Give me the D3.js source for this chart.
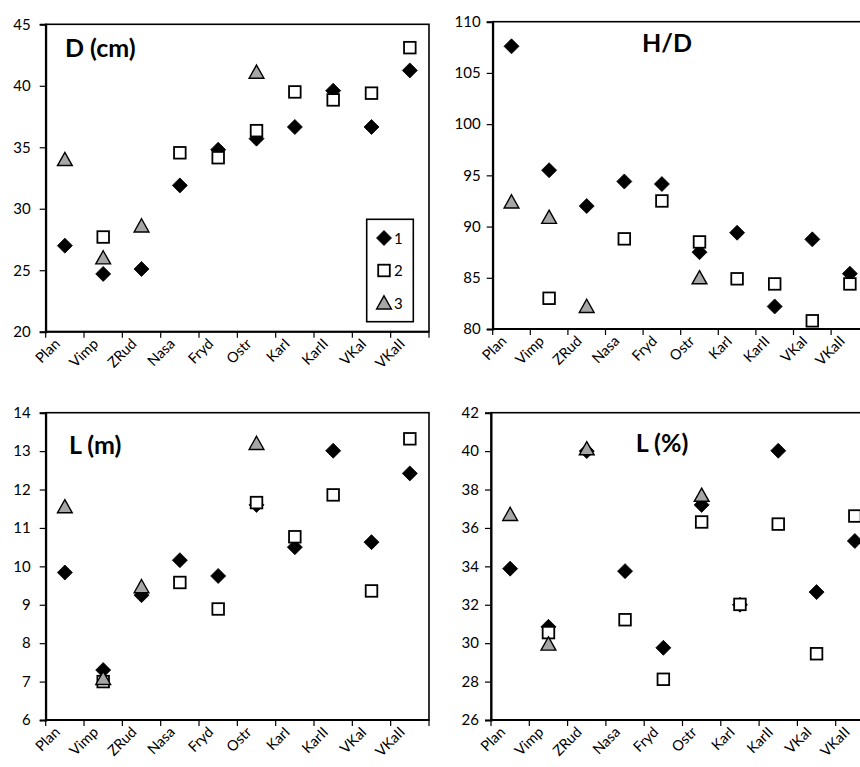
<!DOCTYPE html>
<html><head><meta charset="utf-8">
<script src="https://cdn.jsdelivr.net/npm/d3@7/dist/d3.min.js"></script>
<style>body{margin:0;background:#fff}svg{display:block}text{font-family:Lato,"Open Sans",sans-serif;fill:#000}</style>
</head><body><svg id="c" width="860" height="767"></svg>
<script>
const categories = ["Plan","Vimp","ZRud","Nasa","Fryd","Ostr","KarI","KarII","VKaI","VKaII"];
const seriesNames = ["1","2","3"];

// D (cm)
const D1 = [27.0,24.7,25.1,31.9,34.8,35.7,36.65,39.6,36.65,41.25];
const D2 = [null,27.7,null,34.55,34.15,36.35,39.5,38.85,39.4,43.1];
const D3 = [34.0,26.0,28.6,null,null,41.1,null,null,null,null];
const Dticks = [20,25,30,35,40,45];

// H/D
const HD1 = [107.6,95.5,92.0,94.4,94.15,87.5,89.4,82.2,88.75,85.4];
const HD2 = [null,83.0,null,88.8,92.5,88.5,84.9,84.4,80.8,84.4];
const HD3 = [92.4,90.9,82.2,null,null,85.0,null,null,null,null];
const HDticks = [80,85,90,95,100,105,110];

// L (m)
const Lm1 = [9.84,7.3,9.25,10.16,9.75,11.6,10.5,13.01,10.63,12.42];
const Lm2 = [null,7.0,null,9.58,8.89,11.66,10.77,11.86,9.36,13.32];
const Lm3 = [11.55,7.08,9.47,null,null,13.2,null,null,null,null];
const Lmticks = [6,7,8,9,10,11,12,13,14];

// L (%)
const Lp1 = [33.88,30.85,40.0,33.75,29.76,37.2,32.0,40.02,32.66,35.32];
const Lp2 = [null,30.55,null,31.22,28.12,36.31,32.02,36.2,29.45,36.62];
const Lp3 = [36.7,29.95,40.12,null,null,37.7,null,null,null,null];
const Lpticks = [26,28,30,32,34,36,38,40,42];

const panels = [
  {title:"D (cm)", s:[D1,D2,D3], ticks:Dticks, L:45.7, R:429, T:24.3, B:331.7, tx:65, ty:57, anchor:"start", legend:true, lblGap:15},
  {title:"H/D", s:[HD1,HD2,HD3], ticks:HDticks, L:492.7, R:868.7, T:21.7, B:329, tx:667, ty:52, anchor:"middle", lblGap:12},
  {title:"L (m)", s:[Lm1,Lm2,Lm3], ticks:Lmticks, L:45.7, R:429, T:412.7, B:720, tx:69, ty:454, anchor:"start", lblGap:15},
  {title:"L (%)", s:[Lp1,Lp2,Lp3], ticks:Lpticks, L:491, R:874, T:412.7, B:720, tx:662, ty:452, anchor:"middle", lblGap:12}
];

const svg = d3.select("#c");
function marker(g, k){
  if(k===0){
    g.append("path").attr("d","M0,-7.5L7.5,0L0,7.5L-7.5,0Z").attr("fill","#000").attr("stroke","#000").attr("stroke-width",0.8);
  } else if(k===1){
    g.append("rect").attr("x",-5.8).attr("y",-5.8).attr("width",11.6).attr("height",11.6).attr("fill","#fff").attr("stroke","#000").attr("stroke-width",1.8);
  } else {
    g.append("path").attr("d","M0,-7.2L7.4,6L-7.4,6Z").attr("fill","#a6a6a6").attr("stroke","#000").attr("stroke-width",1.4);
  }
}

panels.forEach(p=>{
  const x = d3.scaleBand().domain(categories).range([p.L,p.R]).padding(0);
  const y = d3.scaleLinear().domain([p.ticks[0],p.ticks[p.ticks.length-1]]).range([p.B,p.T]);
  const g = svg.append("g");
  g.append("rect").attr("x",p.L).attr("y",p.T).attr("width",p.R-p.L).attr("height",p.B-p.T)
    .attr("fill","none").attr("stroke","#000").attr("stroke-width",1.6);
  const ya = g.append("g").attr("transform",`translate(${p.L},0)`)
    .call(d3.axisLeft(y).tickValues(p.ticks).tickSize(6).tickPadding(p.lblGap-6).tickFormat(d3.format("d")));
  ya.select(".domain").attr("stroke-width",2);
  ya.selectAll(".tick line").attr("stroke-width",1.2);
  ya.selectAll("text").style("font-size","15px").attr("fill","#000");
  const edges = categories.map(c=>x(c)).concat([p.R]);
  const xa = g.append("g");
  xa.append("line").attr("x1",p.L).attr("x2",p.R).attr("y1",p.B).attr("y2",p.B).attr("stroke","#000").attr("stroke-width",2);
  xa.selectAll("line.t").data(edges).join("line").attr("class","t")
    .attr("x1",d=>d).attr("x2",d=>d).attr("y1",p.B).attr("y2",p.B+6).attr("stroke","#000").attr("stroke-width",1.2);
  const lab = xa.selectAll("g.lab").data(categories).join("g").attr("class","lab")
    .attr("transform",d=>`translate(${x(d)+x.bandwidth()/2-4},${p.B+13})`);
  lab.append("g").style("transform","rotate(-45deg)")
    .append("text").attr("text-anchor","end").style("font-size","14.5px").text(d=>d);
  g.append("text").attr("x",p.tx).attr("y",p.ty).attr("text-anchor",p.anchor)
    .style("font-size","25px").style("font-weight","bold").text(p.title);
  p.s.forEach((arr,k)=>{
    arr.forEach((v,i)=>{
      if(v===null) return;
      const m = g.append("g").attr("transform",`translate(${x(categories[i])+x.bandwidth()/2},${y(v)})`);
      marker(m,k);
    });
  });
  if(p.legend){
    const lg = g.append("g");
    lg.append("rect").attr("x",366.7).attr("y",219.3).attr("width",46.6).attr("height",102.4)
      .attr("fill","#fff").attr("stroke","#000").attr("stroke-width",1.6);
    seriesNames.forEach((n,k)=>{
      const yy = 238 + k*32.5;
      const m = lg.append("g").attr("transform",`translate(384,${yy})`);
      marker(m,k);
      lg.append("text").attr("x",394).attr("y",yy+5.5).style("font-size","15px").text(n);
    });
  }
});
</script></body></html>
